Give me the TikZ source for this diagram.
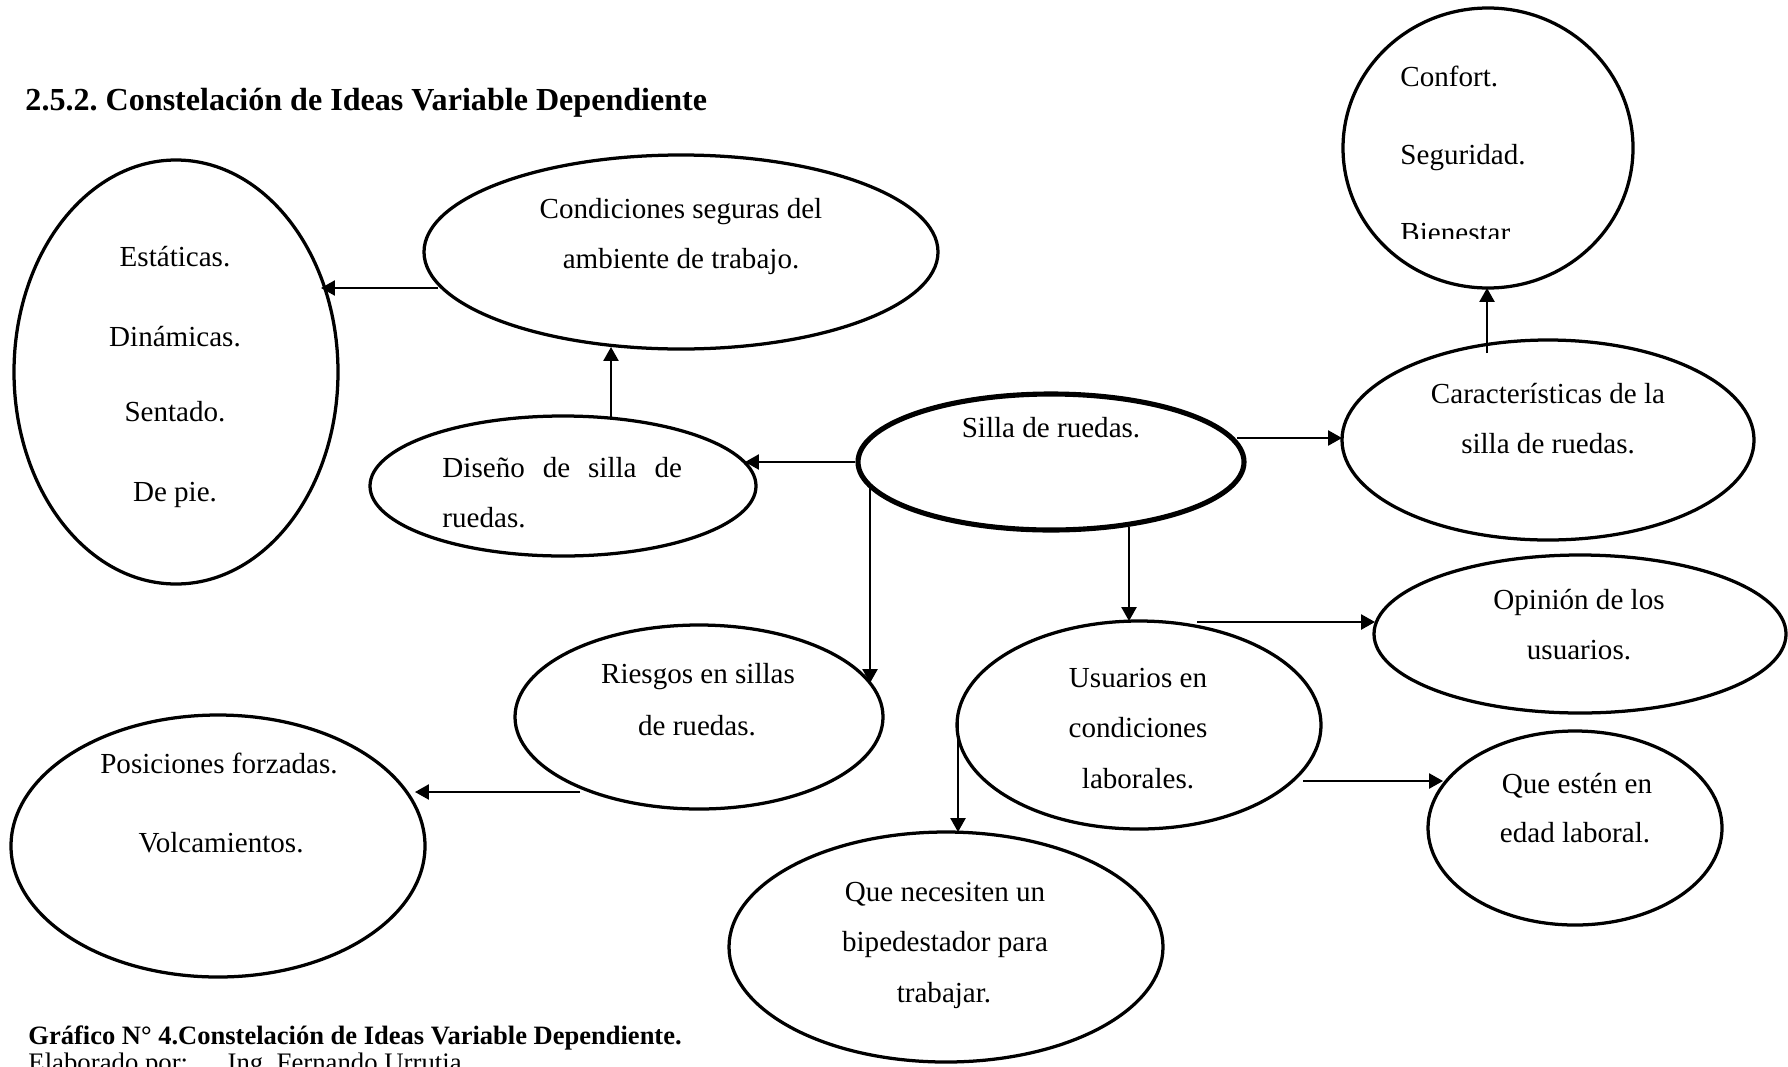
\documentclass[tikz,border=0pt]{standalone}
\usepackage{fontspec}
\setmainfont{Liberation Serif}
\usetikzlibrary{calc,arrows.meta,shapes.geometric}

\newlength\pxu
\setlength\pxu{0.43pt}

\begin{document}
\begin{tikzpicture}[x=0.43pt,y=-0.43pt,
  bubble/.style={draw, ellipse, line width=1.4pt, inner sep=0pt},
  hub/.style={bubble, line width=2.2pt},
  txt/.style={inner sep=0pt, font=\fontsize{12.5}{14}\selectfont, text height=8.8pt, text depth=2.6pt},
  head/.style={inner sep=0pt, anchor=west, font=\fontsize{13.8}{16}\selectfont\bfseries},
  arr/.style={line width=0.9pt, -{Triangle[length=6pt,width=6.5pt]}}]

\useasboundingbox (0,0) rectangle (1788,1066);
\clip (0,0) rectangle (1788,1066);

% heading
\node[head] (title) at (25,103) {2.5.2.\ Constelación de Ideas Variable Dependiente};

% bubbles
\node[bubble, minimum width=324*\pxu, minimum height=424*\pxu] (estat) at (176,372) {};
\node[bubble, minimum width=514*\pxu, minimum height=194*\pxu] (cond) at (681,252) {};
\node[bubble, minimum width=386*\pxu, minimum height=140*\pxu] (diseno) at (563,486) {};
\node[hub, minimum width=386*\pxu, minimum height=136*\pxu] (silla) at (1051,462) {};
\node[bubble, minimum width=412*\pxu, minimum height=200*\pxu] (carac) at (1548,440) {};
\node[bubble, minimum width=290*\pxu, minimum height=280*\pxu] (confort) at (1488,148) {};
\node[bubble, minimum width=412*\pxu, minimum height=158*\pxu] (opin) at (1580,634) {};
\node[bubble, minimum width=364*\pxu, minimum height=208*\pxu] (usu) at (1139,725) {};
\node[bubble, minimum width=368*\pxu, minimum height=184*\pxu] (riesgos) at (699,717) {};
\node[bubble, minimum width=414*\pxu, minimum height=262*\pxu] (posic) at (218,846) {};
\node[bubble, minimum width=294*\pxu, minimum height=194*\pxu] (edad) at (1575,828) {};
\node[bubble, minimum width=434*\pxu, minimum height=230*\pxu] (biped) at (946,947) {};

% texts
\node[txt] (estat1) at (175,259) {Estáticas.};
\node[txt] (estat2) at (175,339) {Dinámicas.};
\node[txt] (estat3) at (175,414) {Sentado.};
\node[txt] (estat4) at (175,494) {De pie.};

\node[txt] (cond1) at (681,211) {Condiciones seguras del};
\node[txt] (cond2) at (681,261) {ambiente de trabajo.};

\node[txt, anchor=west] (dis1) at (442,470) {\makebox[103pt][s]{Diseño\hfill de\hfill silla\hfill de}};
\node[txt, anchor=west] (dis2) at (442,520) {ruedas.};

\node[txt] (silla1) at (1051,430) {Silla de ruedas.};

\node[txt] (carac1) at (1548,396) {Características de la};
\node[txt] (carac2) at (1548,446) {silla de ruedas.};

\node[txt, anchor=base west] (conf1) at (1400,86) {Confort.};
\node[txt, anchor=base west] (conf2) at (1400,164) {Seguridad.};
\begin{scope}
  \clip (1300,0) rectangle (1700,238);
  \node[txt, anchor=base west] (conf3) at (1400,242) {Bienestar.};
\end{scope}

\node[txt] (opin1) at (1579,602) {Opinión de los};
\node[txt] (opin2) at (1579,652) {usuarios.};

\node[txt] (usu1) at (1138,680) {Usuarios en};
\node[txt] (usu2) at (1138,730) {condiciones};
\node[txt] (usu3) at (1138,781) {laborales.};

\node[txt] (ries1) at (698,676) {Riesgos en sillas};
\node[txt] (ries2) at (697,728) {de ruedas.};

\node[txt] (pos1) at (219,766) {Posiciones forzadas.};
\node[txt] (pos2) at (221,845) {Volcamientos.};

\node[txt] (edad1) at (1577,786) {Que estén en};
\node[txt] (edad2) at (1575,835) {edad laboral.};

\node[txt] (bip1) at (945,894) {Que necesiten un};
\node[txt] (bip2) at (945,944) {bipedestador para};
\node[txt] (bip3) at (944,995) {trabajar.};

% connectors
\draw[arr] ($(cond.center)+(-243,36)$) -- ($(estat.center)+(145,-84)$);
\draw[arr] ($(diseno.center)+(48,-68)$) -- ($(cond.center)+(-70,95)$);
\draw[arr] (silla.west) -- ($(diseno.center)+(182,-24)$);
\draw[arr] ($(silla.center)+(-181,26)$) -- ($(riesgos.center)+(171,-34)$);
\draw[arr] ($(riesgos.center)+(-119,75)$) -- ($(posic.center)+(197,-54)$);
\draw[arr] ($(carac.center)+(-61,-87)$) -- ($(confort.center)+(-1,140)$);
\draw[arr] ($(silla.center)+(186,-24)$) -- ($(carac.center)+(-206,-2)$);
\draw[arr] ($(silla.center)+(78,65)$) -- ($(usu.center)+(-10,-104)$);
\draw[arr] ($(usu.center)+(58,-103)$) -- ($(opin.center)+(-205,-12)$);
\draw[arr] ($(usu.center)+(164,56)$) -- ($(edad.center)+(-132,-47)$);
\draw[arr] ($(usu.center)+(-181,-13)$) -- ($(biped.center)+(12,-115)$);

% caption
\node[head, font=\fontsize{11.4}{13}\selectfont\bfseries] (cap) at (28,1038) {Gráfico N° 4.Constelación de Ideas Variable Dependiente.};
\node[inner sep=0pt, anchor=base west, font=\fontsize{11.5}{13}\selectfont] (autor) at (28,1071) {Elaborado por:\hspace{17pt}Ing.\ Fernando Urrutia};
\end{tikzpicture}
\end{document}
